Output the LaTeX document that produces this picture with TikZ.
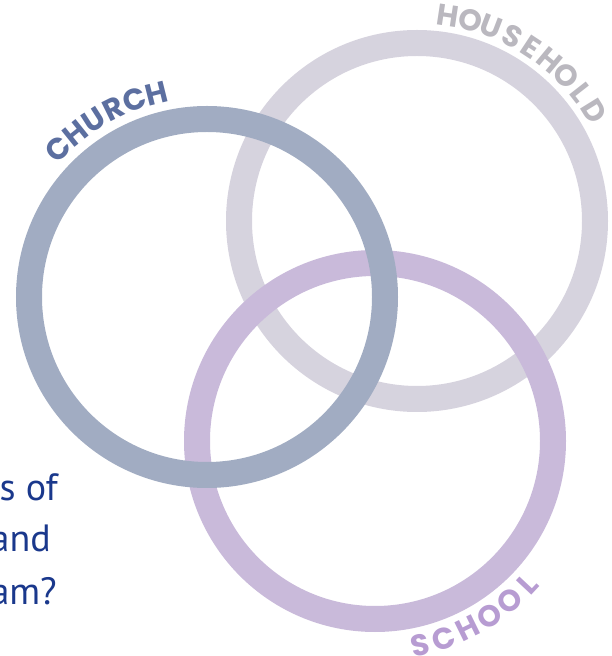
\documentclass[tikz,border=0pt]{standalone}
\usepackage{fontspec}
\setmainfont{PT Sans}
\newfontfamily\ringfont{Poppins}
\usepackage{tikz}
\usetikzlibrary{positioning}
\definecolor{churchring}{RGB}{161,172,194}
\definecolor{churchtext}{RGB}{92,111,160}
\definecolor{householdring}{RGB}{214,211,222}
\definecolor{householdtext}{RGB}{186,184,191}
\definecolor{schoolring}{RGB}{201,186,218}
\definecolor{schooltext}{RGB}{183,156,210}
\definecolor{questionblue}{RGB}{26,56,140}
\tikzset{
  ring/.style={ draw, circle, minimum size=356pt, line width=26pt, inner sep=0pt }
}
\tikzset{
  ringletter/.style={ font=\ringfont\bfseries\fontsize{30}{30}\selectfont, inner sep=0pt, anchor=center }
}
\tikzset{
  question/.style={ font=\fontsize{38}{44}\selectfont, text=questionblue, anchor=base east, inner sep=0pt }
}

\begin{document}
\begin{tikzpicture}[x=1pt, y=1pt]
      \useasboundingbox (0,0) rectangle (611,656);
      \clip (0,0) rectangle (611,656);
      \node[ring, draw=householdring] (household) at (417,435) {};
      \node[ring, draw=schoolring] (school) at (375,215) {};
      \node[ring, draw=churchring] (church) at (207,359) {};
      % letters round the rings
      \foreach \l [count=\i] in {C,H,U,R,C,H} {
        \pgfmathsetmacro\a{141.2-6.2*\i}
        \node[ringletter, text=churchtext, rotate=\a-90] (church-\i) at ([shift={(\a:210)}]church.center) {\l};
      }
      \foreach \l [count=\i] in {H,O,U,S,E,H,O,L,D} {
        \pgfmathsetmacro\a{87.6-6.2*\i}
        \node[ringletter, text=householdtext, rotate=\a-90] (household-\i) at ([shift={(\a:208)}]household.center) {\l};
      }
      \foreach \l [count=\i] in {S,C,H,O,O,L} {
        \pgfmathsetmacro\a{-84.5+6.9*\i}
        \node[ringletter, text=schooltext, rotate=\a+90] (school-\i) at ([shift={(\a:209)}]school.center) {\l};
      }
      \node[question] (line1) at (58,155) {s of};
      \node[question] (line2) at (51,104) {and};
      \node[question] (line3) at (57,51) {am?};
    \end{tikzpicture}
\end{document}
